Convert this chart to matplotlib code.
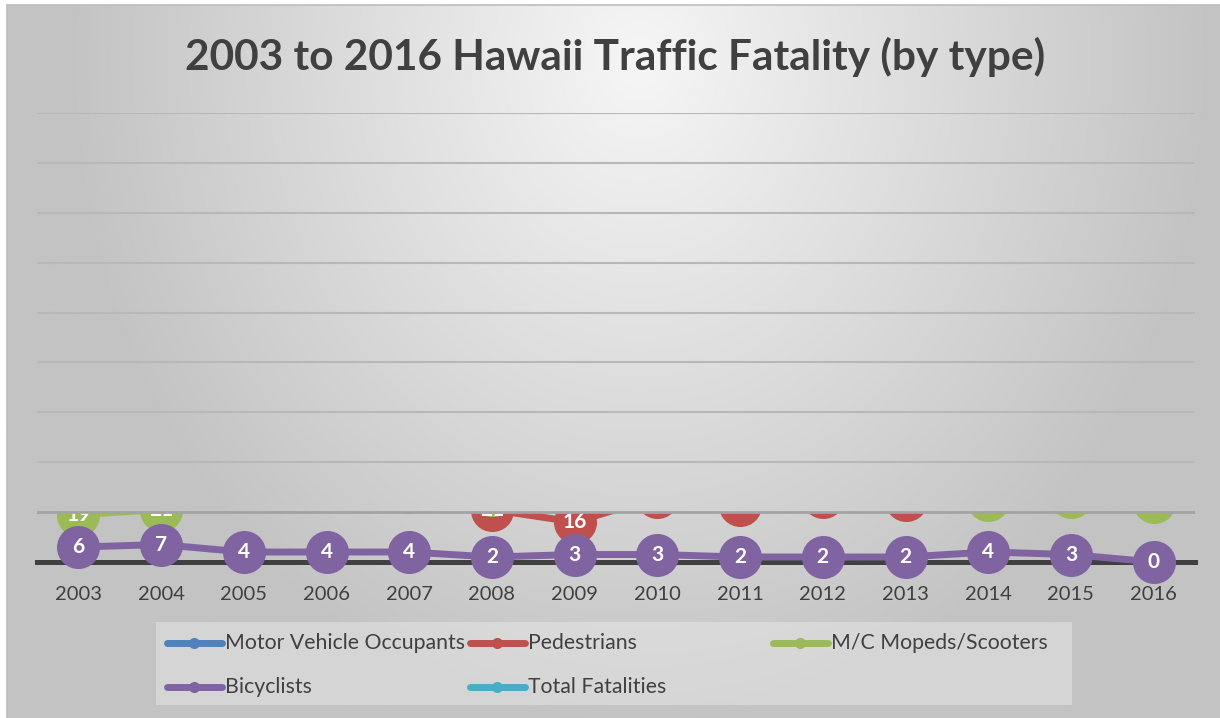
import numpy as np
import matplotlib
matplotlib.use("Agg")
import matplotlib.pyplot as plt
from matplotlib.lines import Line2D
from matplotlib.patches import Rectangle
from matplotlib.transforms import Bbox, TransformedBbox

plt.rcParams['font.family'] = ['Lato', 'DejaVu Sans']

years = ['2003', '2004', '2005', '2006', '2007', '2008', '2009',
         '2010', '2011', '2012', '2013', '2014', '2015', '2016']

# only the part of the plot below 20 is visible in the original chart
motor_vehicle = [55, 56, 60, 65, 52, 40, 44, 43, 36, 48, 41, 37, 38, 40]
pedestrians = [33, 30, 34, 31, 28, 21, 16, 26, 23, 26, 25, 31, 30, 32]
mopeds = [19, 21, 29, 32, 30, 27, 30, 28, 30, 31, 32, 25, 26, 24]
bicyclists = [6, 7, 4, 4, 4, 2, 3, 3, 2, 2, 2, 4, 3, 0]
total = [133, 142, 140, 161, 138, 107, 109, 113, 100, 126, 102, 95, 94, 120]

names = ['Motor Vehicle Occupants', 'Pedestrians', 'M/C Mopeds/Scooters',
         'Bicyclists', 'Total Fatalities']
series = [motor_vehicle, pedestrians, mopeds, bicyclists, total]
colors = ['#4F81BD', '#C0504D', '#9BBB59', '#8064A2', '#4BACC6']

W, H = 1220, 718
fig = plt.figure(figsize=(W / 100, H / 100), dpi=100)
fig.patch.set_facecolor('white')

# gradient background of the chart area
bg = fig.add_axes([7 / W, 0, 1 - 7 / W, 1 - 5 / H])
bg.set_axis_off()
gx, gy = np.meshgrid(np.linspace(7, W, 400), np.linspace(5, H, 240))
r = np.sqrt(((gx - 640) / 700) ** 2 + ((gy - 60) / 820) ** 2)
shade = np.clip(246 - 62 * r, 195, 246) / 255
bg.imshow(np.dstack([shade] * 3), aspect='auto', extent=[0, 1, 0, 1])
bg.set_xlim(0, 1)
bg.set_ylim(0, 1)
fig.add_artist(Line2D([7 / W, 1], [1 - 5 / H, 1 - 5 / H], color='#bdbdbd', lw=1.2))
fig.add_artist(Line2D([7 / W, 7 / W], [0, 1 - 5 / H], color='#bdbdbd', lw=1.2))

ax = fig.add_axes([37 / W, (H - 562) / H, 1158 / W, 449 / H])
ax.patch.set_alpha(0)
x = np.arange(len(years))
ax.set_xlim(-0.5, len(years) - 0.5)
ax.set_ylim(0, 180)
for s in ax.spines.values():
    s.set_visible(False)
ax.set_yticks([])
ax.set_xticks(x)
ax.set_xticklabels(years, fontsize=14.5, color='#404040')
ax.tick_params(axis='x', length=0, pad=17)

for g in range(40, 181, 20):
    ax.axhline(g, color='#b8b8b8', lw=1.5, zorder=6)
ax.axhline(20, color='#a3a3a3', lw=2.0, zorder=6)
ax.axhline(0, color='#404040', lw=3.6, zorder=2, clip_on=False)

clip_rect = Rectangle((-0.5, -30), len(years), 50, transform=ax.transData)
clip_box = TransformedBbox(Bbox([[-0.5, -30], [len(years) - 0.5, 20]]), ax.transData)

for vals, c in zip(series, colors):
    ln, = ax.plot(x, vals, color=c, lw=5, marker='o', markersize=31,
                  markeredgewidth=0, zorder=3)
    ln.set_clip_path(clip_rect)
    for xi, v in zip(x, vals):
        if v >= 23:
            continue  # label would sit fully above the visible band
        t = ax.text(xi, v, str(v), ha='center', va='center', fontsize=15,
                    fontweight='bold', color='white', zorder=4)
        t.set_clip_box(clip_box)
        t.set_clip_on(True)

fig.text(615 / W, 1 - 57 / H, '2003 to 2016 Hawaii Traffic Fatality (by type)',
         ha='center', va='center', fontsize=30.5, fontweight='bold', color='#404040')

# legend laid out like the original (equal column widths, row-major order)
fig.add_artist(Rectangle((156 / W, 1 - 705 / H), (1072 - 156) / W, 83 / H,
                         facecolor='white', alpha=0.3, edgecolor='none'))
slots = [(167, 643), (470, 643), (773, 643), (167, 687), (470, 687)]
for (px, py), name, c in zip(slots, names, colors):
    fig.add_artist(Line2D([px / W, (px + 55) / W], [1 - py / H, 1 - py / H],
                          color=c, lw=5, solid_capstyle='round'))
    fig.add_artist(Line2D([(px + 27) / W], [1 - py / H], color=c, marker='o',
                          markersize=8, markeredgewidth=0))
    fig.text((px + 58) / W, 1 - py / H, name, ha='left', va='center',
             fontsize=15.3, color='#404040')

fig.savefig('out.png', dpi=100)
